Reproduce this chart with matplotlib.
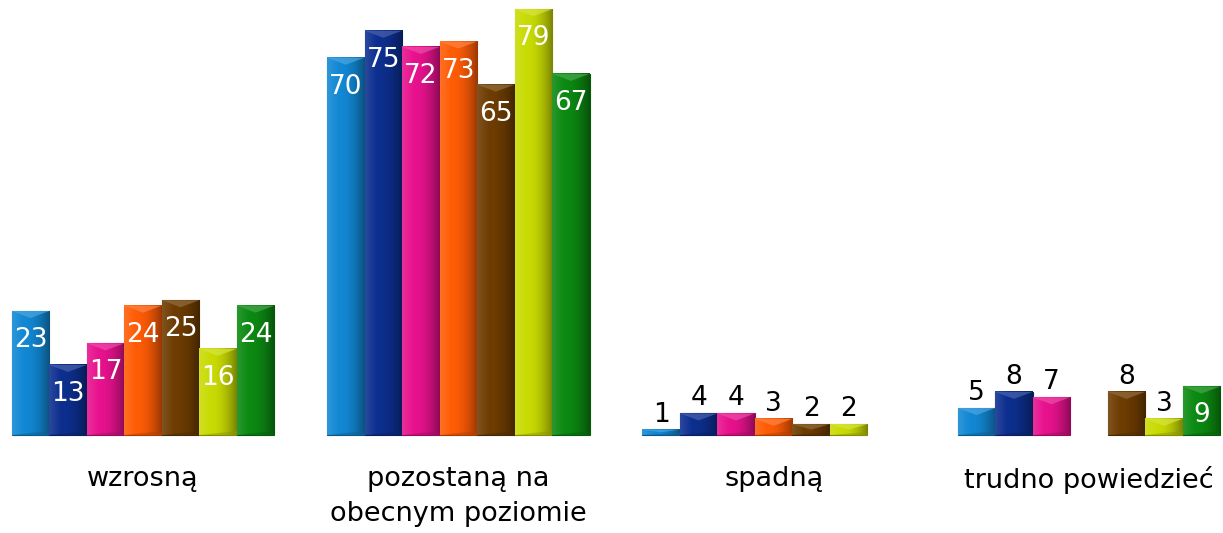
import numpy as np
import matplotlib
matplotlib.use('Agg')
import matplotlib.pyplot as plt
from matplotlib.colors import to_rgb

categories = ['wzrosną', 'pozostaną na\nobecnym poziomie', 'spadną', 'trudno powiedzieć']
s1 = [23, 70, 1, 5]
s2 = [13, 75, 4, 8]
s3 = [17, 72, 4, 7]
s4 = [24, 73, 3, np.nan]
s5 = [25, 65, 2, 8]
s6 = [16, 79, 2, 3]
s7 = [24, 67, np.nan, 9]
series = [s1, s2, s3, s4, s5, s6, s7]
colors = ['#1288d4', '#0d2f8f', '#e8128e', '#ff5c06', '#6e3d02', '#c9db04', '#0c8a12']

plt.rcParams['font.family'] = ['DejaVu Sans']

fig = plt.figure(figsize=(12.23, 5.33), dpi=100)
ax = fig.add_axes([0, 0, 1, 1])

w = 0.119
x = np.arange(len(categories))
px = 5.39  # pixels per unit on y


def shade(c, f):
    r = np.array(to_rgb(c))
    if f < 0:
        return tuple(r * (1 + f))
    return tuple(r + (1 - r) * f)


for j, (vals, col) in enumerate(zip(series, colors)):
    xs = x + (j - 3) * w
    bars = ax.bar(xs, np.nan_to_num(vals), width=w, color=col, edgecolor=shade(col, -0.35),
                  linewidth=0.8, zorder=2)
    for b, v in zip(bars, vals):
        if np.isnan(v):
            b.set_visible(False)
            continue
        x0, bw, h = b.get_x(), b.get_width(), b.get_height()
        # horizontal shading for the glossy look
        grad = np.linspace(0, 1, 50)
        prof = np.where(grad < 0.3, 0.12 * (1 - grad / 0.3), -0.4 * ((grad - 0.3) / 0.7) ** 2)
        img = np.array([[shade(col, p) for p in prof]])
        ax.imshow(img, extent=(x0, x0 + bw, 0, h), aspect='auto', zorder=2.5,
                  interpolation='bicubic')
        bev = min(7 / px, h / 2)
        ax.fill([x0, x0 + bw, x0 + bw * 0.5], [h, h, h - bev], color=shade(col, 0.25),
                alpha=0.7, zorder=3, lw=0)
        ax.fill([x0, x0 + bw, x0 + bw], [0, 0, bev * 0.6], color=shade(col, -0.3),
                alpha=0.5, zorder=3, lw=0)
        if v >= 9:
            ax.text(x0 + bw / 2, h - 29 / px, '%d' % v, ha='center', va='center',
                    color='white', fontsize=19, zorder=4)
        else:
            ax.text(x0 + bw / 2, h + 15 / px, '%d' % v, ha='center', va='center',
                    color='black', fontsize=19, zorder=4)

for xi, cat in zip(x, categories):
    ax.text(xi, -31 / px, cat, ha='center', va='top', fontsize=19.5, linespacing=1.45)

ax.set_xlim(-0.4535, 3.425)
ax.set_ylim(-98 / px, 435 / px)
ax.axis('off')

fig.savefig('out.png', dpi=100)
